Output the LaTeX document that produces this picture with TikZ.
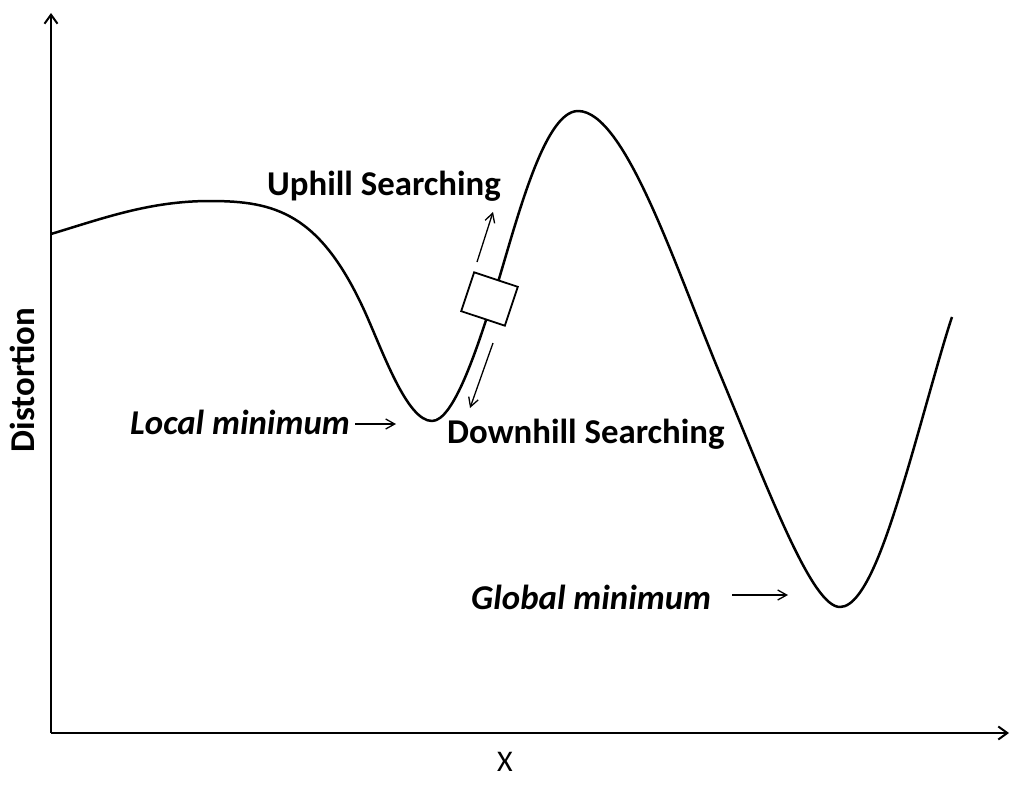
\documentclass[tikz,border=0pt]{standalone}
\usepackage{fontspec}
\setmainfont{Carlito}
\usetikzlibrary{arrows.meta}
\begin{document}
\begin{tikzpicture}[x=1pt,y=-1pt,
  axis/.style={line width=2pt,-{Straight Barb[length=9pt,width=13pt,line width=2pt]}},
  curve/.style={line width=2.5pt,line join=round},
  thinarr/.style={line width=1.3pt,-{Straight Barb[length=9pt,width=10pt,line width=1.3pt]}},
  sbox/.style={draw,line width=1.8pt,fill=white,minimum width=46pt,minimum height=41pt,inner sep=0pt},
  lbl/.style={font=\fontsize{34.8}{40}\selectfont\bfseries,inner sep=0pt},
  ilbl/.style={font=\fontsize{34.8}{40}\selectfont\bfseries\itshape,inner sep=0pt}]
\useasboundingbox (0,0) rectangle (1030,784);
% axes
\coordinate (O) at (51,733);
\coordinate (ytop) at (51,13);
\coordinate (xend) at (1009,733);
\draw[axis] (O) -- (ytop);
\draw[axis] (O) -- (xend);
% curve
\draw[curve] (51,234)
  .. controls (104,218) and (150,201) .. (210,201)
  .. controls (275,201) and (320,213) .. (365,312)
  .. controls (383,352) and (407,421) .. (432,421)
  .. controls (454,421) and (478,346) .. (495,292)
  .. controls (515,228) and (543,111) .. (578,111)
  .. controls (625,111) and (675,266) .. (720,374)
  .. controls (770,494) and (812,607) .. (840,607)
  .. controls (865,607) and (888,534) .. (905,478)
  .. controls (919,432) and (942,346) .. (952,317);
% search box
\node[sbox,rotate=-18.4] (box) at (489.5,299) {};
\coordinate (upS) at (477,262);
\coordinate (upE) at (493,212);
\coordinate (dnS) at (493,343);
\coordinate (dnE) at (470,408);
\draw[thinarr] (upS) -- (upE);
\draw[thinarr] (dnS) -- (dnE);
% labels
\node[lbl,anchor=base west] (up) at (267,195) {Uphill Searching};
\node[lbl,anchor=base west] (dn) at (447,443) {Downhill Searching};
\node[ilbl,anchor=base east] (loc) at (350,434) {Local minimum};
\node[ilbl,anchor=base west] (glob) at (471,609) {Global minimum};
\node[lbl,rotate=90] (ylab) at (22,380) {Distortion};
\node[font=\fontsize{30}{36}\selectfont,inner sep=0pt] (xlab) at (505,762) {X};
% minimum arrows
\coordinate (locS) at (355,424);
\coordinate (locE) at (396,424);
\coordinate (globS) at (732,595);
\coordinate (globE) at (788,595);
\draw[thinarr] (locS) -- (locE);
\draw[thinarr] (globS) -- (globE);
\end{tikzpicture}
\end{document}
